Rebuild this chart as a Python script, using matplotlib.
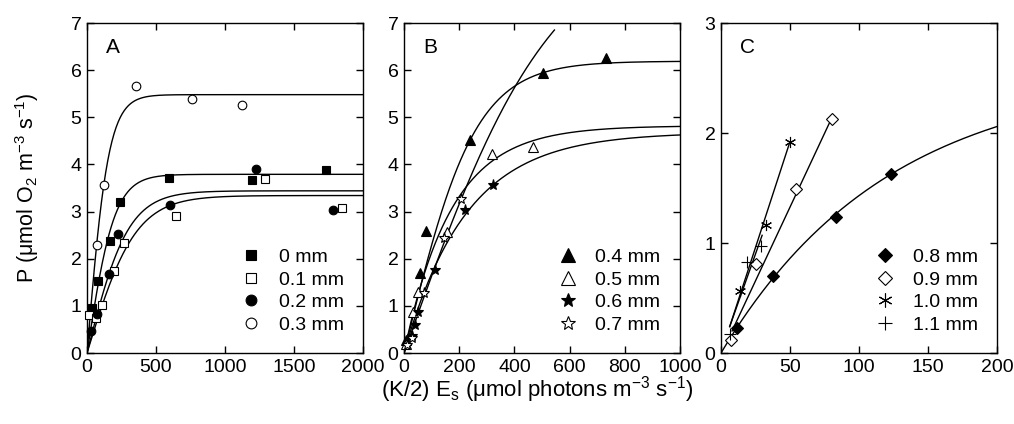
# P vs E curves for several depths, three panels

import numpy as np
import matplotlib.pyplot as plt

plt.rcParams['font.family'] = ['Liberation Sans', 'DejaVu Sans']
plt.rcParams['mathtext.fontset'] = 'custom'
plt.rcParams['mathtext.rm'] = 'Liberation Sans'
plt.rcParams['mathtext.it'] = 'Liberation Sans:italic'

# PANEL A data (E, P)
E_00 = [36, 80, 167, 237, 592, 1196, 1732]
P_00 = [0.95, 1.52, 2.38, 3.21, 3.71, 3.66, 3.89]
E_01 = [15, 68, 107, 196, 268, 643, 1287, 1848]
P_01 = [0.81, 0.74, 1.02, 1.75, 2.34, 2.91, 3.70, 3.08]
E_02 = [27, 70, 160, 227, 600, 1222, 1780]
P_02 = [0.47, 0.83, 1.68, 2.52, 3.15, 3.91, 3.03]
E_03 = [75, 123, 355, 761, 1123]
P_03 = [2.29, 3.56, 5.67, 5.39, 5.27]

# PANEL B data
E_04 = [7, 58, 80, 240, 502, 732]
P_04 = [0.28, 1.70, 2.59, 4.51, 5.94, 6.26]
E_05 = [7, 34, 52, 155, 319, 469]
P_05 = [0.20, 0.88, 1.30, 2.57, 4.23, 4.38]
E_06 = [28, 40, 52, 113, 222, 322]
P_06 = [0.36, 0.59, 0.88, 1.76, 3.04, 3.56]
E_07 = [10, 28, 73, 145, 206]
P_07 = [0.17, 0.31, 1.27, 2.44, 3.27]

# PANEL C data
E_08 = [11.8, 37.7, 83.5, 123]
P_08 = [0.23, 0.70, 1.24, 1.63]
E_09 = [7.5, 25.6, 54.5, 80.1]
P_09 = [0.12, 0.81, 1.49, 2.13]
E_10 = [13.5, 32.7, 49.9]
P_10 = [0.56, 1.16, 1.92]
E_11 = [6.3, 19, 28.7]
P_11 = [0.17, 0.83, 0.97]

labels = ['0 mm', '0.1 mm', '0.2 mm', '0.3 mm', '0.4 mm', '0.5 mm',
          '0.6 mm', '0.7 mm', '0.8 mm', '0.9 mm', '1.0 mm', '1.1 mm']

# fitted curves: saturating (Pmax, alpha, Emax, model)
fits_sat = [(3.79, 0.019, 2000, 'tanh'), (3.34, 0.0095, 2000, 'tanh'),
            (3.44, 0.0115, 2000, 'tanh'), (5.48, 0.035, 2000, 'tanh'),
            (6.19, 0.024, 1000, 'tanh'), (4.82, 0.0281, 1000, 'exp'),
            (4.68, 0.0208, 1000, 'exp'), (9.0, 0.0165, 545, 'tanh'),
            (2.55, 0.021, 200, 'exp')]
# linear fits in C: (slope, intercept, Emin, Emax)
fits_lin = [(0.0268, -0.014, 8.0, 80.1), (0.0385, -0.003, 6.3, 49.9),
            (0.0353, 0.018, 6.3, 29.8)]


def sat(E, Pm, a, model):
    if model == 'tanh':
        return Pm*np.tanh(a*E/Pm)
    return Pm*(1 - np.exp(-a*E/Pm))


E_all = [E_00, E_01, E_02, E_03, E_04, E_05, E_06, E_07, E_08, E_09, E_10, E_11]
P_all = [P_00, P_01, P_02, P_03, P_04, P_05, P_06, P_07, P_08, P_09, P_10, P_11]
markers = ['s', 's', 'o', 'o', '^', '^', '*', '*', 'D', 'D', (6, 2, 0), '+']
filled = [True, False, True, False, True, False, True, False, True, False, True, True]
msize = [6, 6, 6.2, 6.2, 7.5, 7.5, 8, 8, 5.8, 5.8, 8, 8.5]

fig = plt.figure(figsize=(10.14, 4.24), dpi=100)
H = 424.0
W = 1014.0
lefts = [87, 404, 721]
axs = [fig.add_axes([l/W, 1-353/H, 276/W, 330/H]) for l in lefts]
groups = [range(0, 4), range(4, 8), range(8, 12)]

for k, ax in enumerate(axs):
    for i in groups[k]:
        if i < 9:
            Pm, a, Em, model = fits_sat[i]
            e = np.linspace(0, Em, 400)
            ax.plot(e, sat(e, Pm, a, model), '-', color='k', lw=1.0, zorder=1)
        else:
            s, b, e0, e1 = fits_lin[i-9]
            e = np.array([e0, e1])
            ax.plot(e, s*e + b, '-', color='k', lw=1.0, zorder=1)
    for i in groups[k]:
        fc = 'k' if filled[i] else 'white'
        ax.plot(E_all[i], P_all[i], linestyle='none', marker=markers[i], ms=msize[i],
                mfc=fc, mec='k', mew=0.8, label=labels[i], zorder=3, clip_on=False)

axs[0].set_xlim(0, 2000)
axs[0].set_xticks(range(0, 2001, 500))
axs[1].set_xlim(0, 1000)
axs[1].set_xticks(range(0, 1001, 200))
axs[2].set_xlim(0, 200)
axs[2].set_xticks(range(0, 201, 50))
for ax in axs[:2]:
    ax.set_ylim(0, 7)
    ax.set_yticks(range(0, 8))
axs[2].set_ylim(0, 3)
axs[2].set_yticks(range(0, 4))

for ax, letter in zip(axs, ['A', 'B', 'C']):
    ax.tick_params(direction='in', top=True, right=True, length=5, width=1,
                   labelsize=14, pad=4)
    for sp in ax.spines.values():
        sp.set_linewidth(1.0)
    ax.text(0.068, 0.925, letter, transform=ax.transAxes, fontsize=15,
            ha='left', va='center')
    ax.legend(loc='lower right', frameon=False, fontsize=14, handletextpad=0.9,
              labelspacing=0.25, borderaxespad=0.6, handlelength=1.0,
              markerscale=1.25)

fig.text(27/W, 1-188/H, 'P (μmol O$_2$ m$^{-3}$ s$^{-1}$)', rotation=90,
         ha='center', va='center', fontsize=15.5)
fig.text(537/W, 1-390/H, '(K/2) E$_\\mathrm{s}$ (μmol photons m$^{-3}$ s$^{-1}$)',
         ha='center', va='center', fontsize=16)

fig.savefig('out.png', dpi=100)
